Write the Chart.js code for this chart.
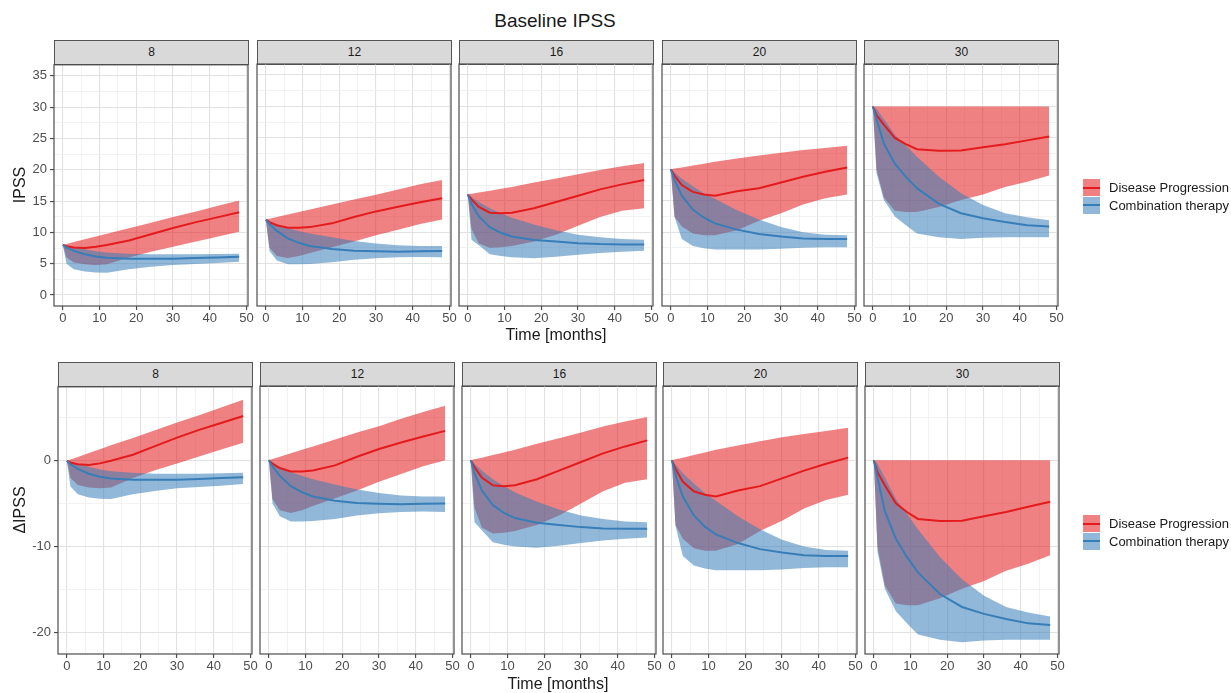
<!DOCTYPE html>
<html>
<head>
<meta charset="utf-8">
<script src="https://cdn.jsdelivr.net/npm/chart.js@4.4.1/dist/chart.umd.min.js"></script>
<style>
  body { margin: 0; background: #fff; font-family: "Liberation Sans", Arial, sans-serif; }
  #fig { position: relative; width: 1231px; height: 693px; overflow: hidden; }
  #fig canvas { position: absolute; }
  .strip { position: absolute; box-sizing: border-box; background: #d9d9d9; border: 1px solid #555;
           font-size: 12px; color: #1a1a1a; text-align: center; }
  .txt { position: absolute; white-space: nowrap; color: #1a1a1a; }
  .key { position: absolute; width: 17px; height: 17px; }
  .key i { position: absolute; left: 0; right: 0; top: 7.5px; height: 2px; }
  .lab { position: absolute; font-size: 13px; color: #1a1a1a; white-space: nowrap; line-height: 17px; }
</style>
</head>
<body>
<div id="fig"></div>
<script>
// ---- data ----
const months = [0, 1, 3, 6, 9, 12, 18, 24, 30, 36, 42, 48];
const baselines = ['8', '12', '16', '20', '30'];
const seriesNames = ['Disease Progression', 'Combination therapy'];

// IPSS, disease progression (median, lower, upper) per baseline facet
const progIpss = [
  [8, 7.8, 7.6, 7.5, 7.7, 8.0, 8.7, 9.7, 10.7, 11.6, 12.4, 13.2],
  [12, 11.6, 11.1, 10.7, 10.7, 10.8, 11.4, 12.4, 13.3, 14.05, 14.75, 15.4],
  [16, 15.2, 14.0, 13.1, 13.0, 13.1, 13.8, 14.8, 15.8, 16.8, 17.6, 18.3],
  [20, 19.0, 17.5, 16.4, 16.0, 15.8, 16.5, 17.0, 17.9, 18.8, 19.6, 20.3],
  [30, 28.6, 27.1, 25.0, 24.0, 23.2, 22.95, 23.0, 23.5, 24.0, 24.6, 25.2]
];
const progIpssLo = [
  [8, 6.0, 5.2, 4.9, 4.8, 4.9, 6.0, 6.9, 7.7, 8.5, 9.3, 10.1],
  [12, 7.5, 6.2, 5.9, 6.2, 6.7, 7.6, 8.5, 9.5, 10.4, 11.3, 12.0],
  [16, 10.5, 8.2, 7.5, 7.6, 7.8, 8.5, 9.6, 11.0, 12.4, 13.4, 13.8],
  [20, 12.5, 10.9, 9.8, 9.5, 9.5, 10.3, 11.8, 13.0, 14.4, 15.4, 16.0],
  [30, 20.0, 15.5, 13.4, 13.2, 13.2, 14.0, 15.1, 16.0, 17.2, 18.0, 19.0]
];
const progIpssHi = [
  [8, 8.15, 8.45, 8.9, 9.35, 9.8, 10.65, 11.55, 12.45, 13.3, 14.2, 15.1],
  [12, 12.13, 12.4, 12.8, 13.2, 13.6, 14.4, 15.2, 15.95, 16.8, 17.6, 18.3],
  [16, 16.1, 16.3, 16.6, 16.9, 17.2, 17.9, 18.55, 19.2, 19.9, 20.5, 21.0],
  [20, 20.12, 20.3, 20.6, 20.9, 21.2, 21.7, 22.2, 22.65, 23.05, 23.4, 23.75],
  [30, 30, 30, 30, 30, 30, 30, 30, 30, 30, 30, 30]
];
// IPSS, combination therapy
const comboIpss = [
  [8, 7.6, 7.05, 6.5, 6.15, 5.95, 5.8, 5.8, 5.8, 5.9, 6.0, 6.1],
  [12, 11.3, 10.2, 9.0, 8.3, 7.8, 7.3, 7.05, 6.95, 6.9, 6.95, 7.0],
  [16, 14.5, 12.5, 10.8, 9.9, 9.3, 8.75, 8.5, 8.25, 8.1, 8.05, 8.05],
  [20, 18.3, 15.8, 13.6, 12.3, 11.4, 10.4, 9.7, 9.3, 9.0, 8.9, 8.9],
  [30, 28.0, 24.1, 20.9, 18.8, 17.0, 14.5, 13.0, 12.2, 11.6, 11.1, 10.9]
];
const comboIpssLo = [
  [8, 5.0, 4.1, 3.75, 3.6, 3.55, 4.1, 4.5, 4.8, 4.95, 5.1, 5.3],
  [12, 7.0, 5.5, 4.9, 4.9, 4.95, 5.2, 5.6, 5.85, 6.0, 6.05, 6.0],
  [16, 8.8, 7.9, 6.5, 6.2, 6.0, 5.85, 6.1, 6.4, 6.7, 6.9, 7.05],
  [20, 12.4, 8.9, 7.8, 7.45, 7.25, 7.25, 7.25, 7.35, 7.5, 7.6, 7.6],
  [30, 19.4, 15.1, 12.5, 11.1, 9.8, 9.2, 8.9, 9.1, 9.2, 9.2, 9.2]
];
const comboIpssHi = [
  [8, 7.9, 7.65, 7.3, 7.0, 6.8, 6.6, 6.5, 6.5, 6.5, 6.55, 6.6],
  [12, 11.7, 11.2, 10.6, 10.2, 9.8, 9.2, 8.6, 8.2, 7.9, 7.8, 7.8],
  [16, 15.6, 14.8, 13.8, 13.0, 12.3, 11.2, 10.3, 9.6, 9.2, 8.9, 8.8],
  [20, 19.5, 18.5, 17.3, 16.2, 15.3, 13.5, 12.0, 10.8, 10.0, 9.6, 9.5],
  [30, 29.6, 28.0, 25.5, 23.8, 22.0, 18.8, 16.2, 14.3, 13.0, 12.35, 11.9]
];

// change from baseline (ΔIPSS), disease progression
const progDelta = [
  [0, -0.2, -0.4, -0.5, -0.3, 0, 0.7, 1.7, 2.7, 3.6, 4.4, 5.2],
  [0, -0.4, -0.9, -1.3, -1.3, -1.2, -0.6, 0.4, 1.3, 2.05, 2.75, 3.4],
  [0, -0.8, -2.0, -2.9, -3.0, -2.9, -2.2, -1.2, -0.2, 0.8, 1.6, 2.3],
  [0, -1.0, -2.5, -3.6, -4.0, -4.2, -3.5, -3.0, -2.1, -1.2, -0.4, 0.3],
  [0, -1.4, -2.9, -5.0, -6.0, -6.8, -7.05, -7.0, -6.5, -6.0, -5.4, -4.8]
];
const progDeltaLo = [
  [0, -2.0, -2.8, -3.1, -3.2, -3.1, -2.0, -1.1, -0.3, 0.5, 1.3, 2.1],
  [0, -4.5, -5.8, -6.1, -5.8, -5.3, -4.4, -3.5, -2.5, -1.6, -0.7, 0],
  [0, -5.5, -7.8, -8.5, -8.4, -8.2, -7.5, -6.4, -5.0, -3.6, -2.6, -2.2],
  [0, -7.5, -9.1, -10.2, -10.5, -10.5, -9.7, -8.2, -7.0, -5.6, -4.6, -4.0],
  [0, -10.0, -14.5, -16.6, -16.8, -16.8, -16.0, -14.9, -14.0, -12.8, -12.0, -11.0]
];
const progDeltaHi = [
  [0, 0.15, 0.45, 0.9, 1.35, 1.8, 2.65, 3.55, 4.45, 5.3, 6.2, 7.1],
  [0, 0.13, 0.4, 0.8, 1.2, 1.6, 2.4, 3.2, 3.95, 4.8, 5.6, 6.3],
  [0, 0.1, 0.3, 0.6, 0.9, 1.2, 1.9, 2.55, 3.2, 3.9, 4.5, 5.0],
  [0, 0.12, 0.3, 0.6, 0.9, 1.2, 1.7, 2.2, 2.65, 3.05, 3.4, 3.75],
  [0, 0, 0, 0, 0, 0, 0, 0, 0, 0, 0, 0]
];
// ΔIPSS, combination therapy
const comboDelta = [
  [0, -0.4, -0.95, -1.5, -1.85, -2.05, -2.2, -2.2, -2.2, -2.1, -2.0, -1.9],
  [0, -0.7, -1.8, -3.0, -3.7, -4.2, -4.7, -4.95, -5.05, -5.1, -5.05, -5.0],
  [0, -1.5, -3.5, -5.2, -6.1, -6.7, -7.25, -7.5, -7.75, -7.9, -7.95, -7.95],
  [0, -1.7, -4.2, -6.4, -7.7, -8.6, -9.6, -10.3, -10.7, -11.0, -11.1, -11.1],
  [0, -2.0, -5.9, -9.1, -11.2, -13.0, -15.5, -17.0, -17.8, -18.4, -18.9, -19.1]
];
const comboDeltaLo = [
  [0, -3.0, -3.9, -4.25, -4.4, -4.45, -3.9, -3.5, -3.2, -3.05, -2.9, -2.7],
  [0, -5.0, -6.5, -7.1, -7.1, -7.05, -6.8, -6.4, -6.15, -6.0, -5.95, -6.0],
  [0, -7.2, -8.1, -9.5, -9.8, -10.0, -10.15, -9.9, -9.6, -9.3, -9.1, -8.95],
  [0, -7.6, -11.1, -12.2, -12.55, -12.75, -12.75, -12.75, -12.65, -12.5, -12.4, -12.4],
  [0, -10.6, -14.9, -17.5, -18.9, -20.2, -20.8, -21.1, -20.9, -20.8, -20.8, -20.8]
];
const comboDeltaHi = [
  [0, -0.1, -0.35, -0.7, -1.0, -1.2, -1.4, -1.5, -1.5, -1.5, -1.45, -1.4],
  [0, -0.3, -0.8, -1.4, -1.8, -2.2, -2.8, -3.4, -3.8, -4.1, -4.2, -4.2],
  [0, -0.4, -1.2, -2.2, -3.0, -3.7, -4.8, -5.7, -6.4, -6.8, -7.1, -7.2],
  [0, -0.5, -1.5, -2.7, -3.8, -4.7, -6.5, -8.0, -9.2, -10.0, -10.4, -10.5],
  [0, -0.4, -2.0, -4.5, -6.2, -8.0, -11.2, -13.8, -15.7, -17.0, -17.65, -18.1]
];

// ticks
const monthTicks = [0, 10, 20, 30, 40, 50];
const monthMinor = [5, 15, 25, 35, 45];
const ipssTicks = [0, 5, 10, 15, 20, 25, 30, 35];
const ipssMinor = [2.5, 7.5, 12.5, 17.5, 22.5, 27.5, 32.5];
const deltaTicks = [-20, -10, 0];
const deltaMinor = [-15, -5, 5];

const PROG = '#e41a1c';
const COMBO = '#377eb8';
const RIBBON_ALPHA = 0.55;

Chart.defaults.font.family = '"Liberation Sans", Arial, sans-serif';

const fig = document.getElementById('fig');

function rgba(hex, a) {
    const n = parseInt(hex.slice(1), 16);
    return `rgba(${n >> 16}, ${(n >> 8) & 255}, ${n & 255}, ${a})`;
}

function pts(arr) {
    return months.map((m, k) => ({ x: m, y: arr[k] }));
}

function addText(text, x, y, size, rotate) {
    const d = document.createElement('div');
    d.className = 'txt';
    d.textContent = text;
    d.style.left = x + 'px';
    d.style.top = y + 'px';
    d.style.fontSize = size + 'px';
    d.style.transform = 'translate(-50%, -50%)' + (rotate ? ' rotate(-90deg)' : '');
    fig.appendChild(d);
}

const panelBorder = {
    id: 'panelBorder',
    afterDraw(chart) {
        const a = chart.chartArea;
        const c = chart.ctx;
        c.save();
        c.strokeStyle = '#4d4d4d';
        c.lineWidth = 1.2;
        c.strokeRect(a.left, a.top, a.right - a.left, a.bottom - a.top);
        c.restore();
    }
};

const rows = [
    {
        top: 64, bottom: 306, left: 54, width: 194, step: 202.5,
        yMin: -1.75, yMax: 36.75, yTicks: ipssTicks, yMinor: ipssMinor,
        prog: [progIpss, progIpssLo, progIpssHi],
        combo: [comboIpss, comboIpssLo, comboIpssHi]
    },
    {
        top: 386, bottom: 654, left: 58, width: 193.5, step: 201.8,
        yMin: -22.45, yMax: 8.6, yTicks: deltaTicks, yMinor: deltaMinor,
        prog: [progDelta, progDeltaLo, progDeltaHi],
        combo: [comboDelta, comboDeltaLo, comboDeltaHi]
    }
];

function gridOpts(majors, withTicks) {
    const isMajor = ctx => majors.includes(ctx.tick.value);
    return {
        color: ctx => isMajor(ctx) ? '#e2e2e2' : '#efefef',
        lineWidth: ctx => isMajor(ctx) ? 1.1 : 0.8,
        drawTicks: withTicks,
        tickLength: 4,
        tickWidth: 1.2,
        tickColor: ctx => isMajor(ctx) ? '#4d4d4d' : 'rgba(0,0,0,0)'
    };
}

function makePanel(row, i) {
    const pl = Math.round(row.left + i * row.step);
    const pr = Math.round(pl + row.width);
    const padL = i === 0 ? 0 : 10, padR = 12, padT = 10, axisH = 24;
    const cLeft = i === 0 ? 0 : pl - padL;
    const yW = i === 0 ? pl : 0;
    const w = pr - cLeft + padR;
    const h = row.bottom - row.top + padT + axisH;

    const strip = document.createElement('div');
    strip.className = 'strip';
    strip.style.left = pl + 'px';
    strip.style.top = (row.top - 24) + 'px';
    strip.style.width = (pr - pl + 1) + 'px';
    strip.style.height = '25px';
    strip.style.lineHeight = '23px';
    strip.textContent = baselines[i];
    fig.appendChild(strip);

    const canvas = document.createElement('canvas');
    canvas.width = w;
    canvas.height = h;
    canvas.style.left = cLeft + 'px';
    canvas.style.top = (row.top - padT) + 'px';
    canvas.style.width = w + 'px';
    canvas.style.height = h + 'px';
    fig.appendChild(canvas);

    const [pMid, pLo, pHi] = row.prog.map(a => a[i]);
    const [cMid, cLo, cHi] = row.combo.map(a => a[i]);
    const ribbon = (data, color, order) => ({
        data: pts(data), borderWidth: 0, pointRadius: 0, backgroundColor: rgba(color, RIBBON_ALPHA),
        fill: false, order
    });

    const datasets = [
        { ...ribbon(pHi, PROG, 3), fill: '+1' },
        ribbon(pLo, PROG, 3),
        { ...ribbon(cHi, COMBO, 2), fill: '+1' },
        ribbon(cLo, COMBO, 2),
        { label: seriesNames[0], data: pts(pMid), borderColor: PROG, borderWidth: 2, pointRadius: 0, fill: false, order: 1 },
        { label: seriesNames[1], data: pts(cMid), borderColor: COMBO, borderWidth: 2, pointRadius: 0, fill: false, order: 0 }
    ];

    const xGrid = monthTicks.concat(monthMinor).sort((a, b) => a - b);
    const yGrid = row.yTicks.concat(row.yMinor).sort((a, b) => a - b);

    new Chart(canvas, {
        type: 'line',
        data: { datasets },
        options: {
            responsive: false,
            animation: false,
            devicePixelRatio: 1,
            layout: { padding: { left: padL, right: padR, top: padT, bottom: 0 } },
            plugins: { legend: { display: false }, tooltip: { enabled: false } },
            elements: { line: { tension: 0 } },
            scales: {
                x: {
                    type: 'linear', min: -2.4, max: 50.4,
                    afterBuildTicks: s => { s.ticks = xGrid.map(v => ({ value: v })); },
                    afterFit: s => { s.height = axisH; },
                    border: { display: false },
                    grid: gridOpts(monthTicks, true),
                    ticks: {
                        autoSkip: false, maxRotation: 0, minRotation: 0, padding: 1,
                        color: '#4d4d4d', font: { size: 13 },
                        callback: v => monthTicks.includes(v) ? String(v) : ''
                    }
                },
                y: {
                    type: 'linear', min: row.yMin, max: row.yMax,
                    afterBuildTicks: s => { s.ticks = yGrid.map(v => ({ value: v })); },
                    afterFit: s => { s.width = yW; },
                    border: { display: false },
                    grid: gridOpts(row.yTicks, i === 0),
                    ticks: {
                        display: i === 0, autoSkip: false, padding: 3,
                        color: '#4d4d4d', font: { size: 13 },
                        callback: v => row.yTicks.includes(v) ? String(v) : ''
                    }
                }
            }
        },
        plugins: [panelBorder]
    });
}

rows.forEach(row => baselines.forEach((b, i) => makePanel(row, i)));

// titles
addText('Baseline IPSS', 555, 21, 19);
addText('IPSS', 20, 185, 16, true);
addText('\u0394IPSS', 20, 510, 16, true);
addText('Time [months]', 556, 335, 16);
addText('Time [months]', 558, 684, 16);

// legends
function addLegend(top) {
    [PROG, COMBO].forEach((col, k) => {
        const key = document.createElement('div');
        key.className = 'key';
        key.style.left = '1083px';
        key.style.top = (top + k * 17.5) + 'px';
        key.style.background = rgba(col, RIBBON_ALPHA);
        const line = document.createElement('i');
        line.style.background = col;
        key.appendChild(line);
        fig.appendChild(key);

        const lab = document.createElement('div');
        lab.className = 'lab';
        lab.style.left = '1109px';
        lab.style.top = (top + k * 17.5) + 'px';
        lab.textContent = seriesNames[k];
        fig.appendChild(lab);
    });
}
addLegend(179);
addLegend(515);
</script>
</body>
</html>
